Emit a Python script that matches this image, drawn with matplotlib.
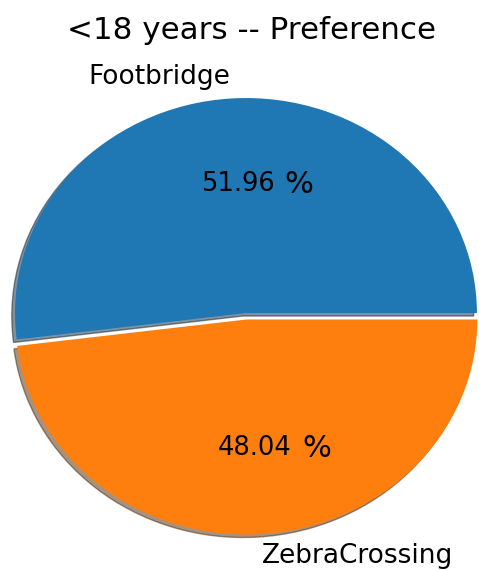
import matplotlib.pyplot as plt

labels = ["Footbridge", "ZebraCrossing"]
shares = [51.96, 48.04]
explode = [0, 0.03]


def plot_preference(labels, shares, title):
    fig = plt.figure(figsize=(4.79, 5.70), dpi=100)
    ax = fig.add_axes([0, 0, 1, 1])
    wedges, texts, autotexts = ax.pie(
        shares,
        labels=labels,
        explode=explode,
        autopct="%.2f",
        shadow={"ox": -0.01, "oy": -0.01},
        textprops={"fontsize": 19},
    )
    # number in the wedge, with a larger percent sign after it
    for t in autotexts:
        t.set_fontsize(18.5)
        ax.annotate("%", xy=t.get_position(), xytext=(47, 0),
                    textcoords="offset pixels", ha="left", va="center",
                    fontsize=22)
    # slightly squashed pie, stretched across the full width
    ax.set_aspect("auto")
    ax.set_xlim(-1.065, 1.009)
    ax.set_ylim(-1.195, 1.456)
    fig.text(0.526, 0.947, title, ha="center", va="center", fontsize=22.3)
    fig.savefig("out.png", dpi=100)


if __name__ == "__main__":
    plot_preference(labels, shares, "<18 years -- Preference")
